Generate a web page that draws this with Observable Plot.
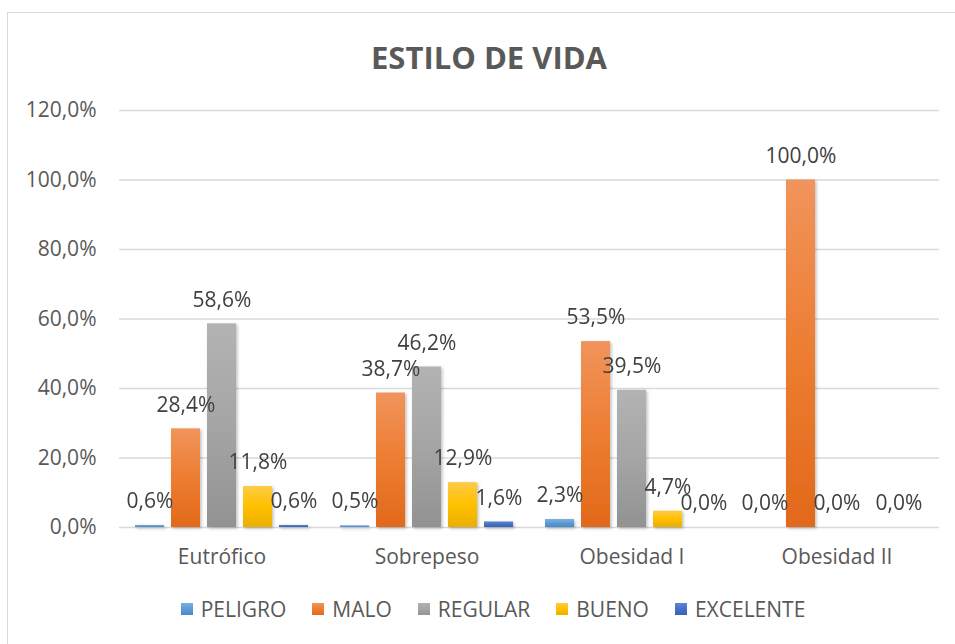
<!DOCTYPE html>
<html><head><meta charset="utf-8">
<script src="https://cdn.jsdelivr.net/npm/d3@7"></script>
<script src="https://cdn.jsdelivr.net/npm/@observablehq/plot@0.6"></script>
<style>
body{margin:0;background:#fff;font-family:"Open Sans",sans-serif;}
#wrap{position:relative;width:955px;height:644px;overflow:hidden;background:#fff;}
#frame{position:absolute;left:7px;top:12px;width:980px;height:660px;border:1.5px solid #d9d9d9;box-sizing:border-box;}
#title{position:absolute;left:0;top:37px;width:978px;text-align:center;font:700 31px/40px "Open Sans",sans-serif;color:#595959;}
#chart{position:absolute;left:0;top:0;}
#legend{position:absolute;left:0;top:596px;width:986px;display:flex;justify-content:center;font:400 21px/26px "Open Sans",sans-serif;color:#595959;}
.item{display:flex;align-items:center;margin:0 13px;}
.sw{width:12px;height:12px;margin-right:8px;}
</style>
</head><body>
<div id="wrap">
  <div id="frame"></div>
  <div id="title">ESTILO DE VIDA</div>
  <div id="chart"></div>
  <div id="legend"></div>
</div>
<script>
const categories = ["Eutrófico", "Sobrepeso", "Obesidad I", "Obesidad II"];
const series = ["PELIGRO", "MALO", "REGULAR", "BUENO", "EXCELENTE"];
const peligro   = [0.6, 0.5, 2.3, 0.0];
const malo      = [28.4, 38.7, 53.5, 100.0];
const regular   = [58.6, 46.2, 39.5, 0.0];
const bueno     = [11.8, 12.9, 4.7, 0.0];
const excelente = [0.6, 1.6, 0.0, 0.0];
const yTicks = [0, 20, 40, 60, 80, 100, 120];
const baseColors = ["#5B9BD5", "#ED7D31", "#A5A5A5", "#FFC000", "#4472C4"];
const topColors  = ["#7DB0E0", "#F1945C", "#B3B3B3", "#FFCB45", "#5E87D2"];
const botColors  = ["#4A8AC6", "#E2691A", "#929292", "#EAB000", "#3963B4"];

const seriesValues = [peligro, malo, regular, bueno, excelente];
const data = [];
categories.forEach((c, i) => series.forEach((s, j) => data.push({cat: c, serie: s, si: j, value: seriesValues[j][i]})));

const fmt = v => v.toFixed(1).replace(".", ",") + "%";
const hideLabel = d => d.cat === "Obesidad II" && (d.serie === "BUENO" || d.serie === "EXCELENTE");

const plot = Plot.plot({
  width: 955,
  height: 580,
  marginTop: 110,
  marginBottom: 53,
  marginLeft: 119,
  marginRight: 16,
  style: {fontFamily: "'Open Sans', sans-serif", fontSize: "21px", color: "#595959", background: "transparent", overflow: "visible"},
  fx: {domain: categories, padding: 0, label: null},
  x: {domain: series, paddingInner: 0.184, paddingOuter: 0.381, axis: null},
  y: {domain: [0, 120], label: null},
  color: {type: "identity"},
  marks: [
    Plot.gridY(yTicks, {stroke: "#d9d9d9", strokeOpacity: 1, strokeWidth: 1.3}),
    Plot.axisY(yTicks, {tickSize: 0, tickPadding: 23, tickFormat: d => d.toFixed(1).replace(".", ",") + "%", label: null, fontSize: 21, fill: "#595959"}),
    Plot.axisFx({anchor: "bottom", tickSize: 0, tickPadding: 22, label: null, fontSize: 21, fill: "#595959"}),
    Plot.barY(data, {fx: "cat", x: "serie", y: "value", fill: d => `url(#grad${d.si})`}),
    Plot.text(data.filter(d => !hideLabel(d)), {fx: "cat", x: "serie", y: "value", text: d => fmt(d.value), dy: -24, fontSize: 21, fill: "#404040"}),
    Plot.text(data.filter(d => d.cat === "Obesidad II" && d.serie === "EXCELENTE"), {fx: "cat", x: "serie", y: "value", text: d => fmt(d.value), dy: -24, dx: -10, fontSize: 21, fill: "#404040"})
  ]
});

const svg = d3.select(plot);
const defs = svg.insert("defs", ":first-child");
series.forEach((s, j) => {
  const g = defs.append("linearGradient").attr("id", "grad" + j).attr("x1", 0).attr("y1", 0).attr("x2", 0).attr("y2", 1);
  g.append("stop").attr("offset", "0%").attr("stop-color", topColors[j]);
  g.append("stop").attr("offset", "50%").attr("stop-color", baseColors[j]);
  g.append("stop").attr("offset", "100%").attr("stop-color", botColors[j]);
});
const f = defs.append("filter").attr("id", "shadow").attr("x", "-20%").attr("y", "-20%").attr("width", "150%").attr("height", "150%");
f.append("feDropShadow").attr("dx", 1.5).attr("dy", 1.5).attr("stdDeviation", 1.5).attr("flood-color", "#000").attr("flood-opacity", 0.25);
svg.selectAll('g[aria-label="bar"]').attr("filter", "url(#shadow)");

document.getElementById("chart").appendChild(plot);

const legend = d3.select("#legend");
series.forEach((s, j) => {
  const it = legend.append("div").attr("class", "item");
  it.append("div").attr("class", "sw").style("background", `linear-gradient(${topColors[j]}, ${baseColors[j]}, ${botColors[j]})`);
  it.append("span").text(s);
});
</script>
</body></html>
